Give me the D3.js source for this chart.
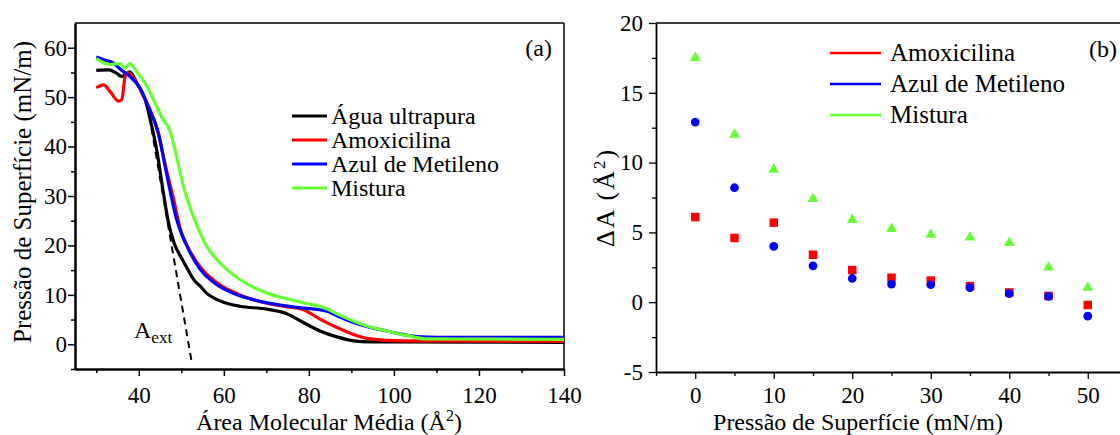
<!DOCTYPE html>
<html>
<head>
<meta charset="utf-8">
<script src="https://cdn.jsdelivr.net/npm/d3@7"></script>
<style>
  body { margin: 0; background: #fff; }
  svg { display: block; }
</style>
</head>
<body>
<svg id="chart" width="1120" height="435"></svg>
<script>
// ---- panel (a): isotherms, [area, pressure]
const aguaCurve = [[30,55.4],[33,55.5],[34.5,55],[36,54.2],[37.9,55.1],[39.5,52.9],[41.5,49.5],[42.6,45.8],
  [44.2,39.4],[45.8,30.6],[47,24.5],[48.3,20.5],[50,17.5],[51.3,15.5],[53,13],[54.4,11.8],[56,10.3],
  [58.3,9.1],[61,8.2],[63.8,7.7],[70.1,7.1],[74.8,6.2],[78.7,4.4],[82.6,2.7],[86.6,1.5],[90.5,0.7],
  [94.4,0.5],[120,0.45],[140,0.4]];
const amoxCurve = [[30,51.9],[31.7,52.5],[33.2,51.2],[35.2,49.2],[36,49.5],[36.8,54.2],[37.5,54.9],
  [39.1,53.5],[41.1,50.2],[42.6,47.6],[44.6,42.5],[46.3,36],[48.2,29.3],[49.8,23.2],[51.4,19.9],
  [54.5,15.6],[58.3,12.5],[63.8,10],[70.1,8.3],[74,7.7],[78.7,7.0],[82.6,5.1],[86.6,3.4],[90.5,2.0],
  [94.4,1.1],[102,0.7],[140,0.6]];
const azulCurve = [[30,58.1],[32,57.5],[34,56.9],[36,55.4],[37.9,54.2],[40.3,51.8],[42.2,48.1],[44.6,42.8],
  [46.2,36.0],[47.8,29.3],[48.9,25.3],[50,22.5],[51.3,19.9],[54.4,15.2],[58.3,12.1],[63.8,9.8],
  [70.1,8.4],[77.9,7.4],[84.2,6.7],[87,5.6],[90.5,4.4],[94,3.5],[98.3,2.7],[102,2.0],[106.2,1.5],
  [110,1.4],[140,1.4]];
const misturaCurve = [[30,57.8],[33.2,56.6],[35.6,56.8],[36.8,55.9],[37.9,56.8],[39.5,55.2],[41.9,52.2],
  [44.2,48.1],[45.5,45.8],[47.35,43.1],[48.5,39.4],[50.5,32],[52.5,26.6],[54.4,22.6],[56,19.8],
  [58.3,17.2],[63.8,13.1],[70.1,10.4],[74,9.4],[78.7,8.4],[84.2,7.2],[87,6.0],[90.5,4.7],[94,3.6],
  [98.3,2.7],[103,1.8],[107.5,1.1],[140,1.0]];
const tangentLine = [[42.5,46.1],[52.5,-3.9]];
const isoNames = ["Água ultrapura", "Amoxicilina", "Azul de Metileno", "Mistura"];
const isoTicksX = [40, 60, 80, 100, 120, 140];
const isoTicksY = [0, 10, 20, 30, 40, 50, 60];

// ---- panel (b): delta A vs pressure
const pressures = [0, 5, 10, 15, 20, 25, 30, 35, 40, 45, 50];
const deltaAmox = [6.1, 4.6, 5.7, 3.4, 2.3, 1.75, 1.55, 1.15, 0.7, 0.45, -0.2];
const deltaAzul = [12.9, 8.2, 4.0, 2.6, 1.7, 1.3, 1.25, 1.05, 0.62, 0.42, -1.0];
const deltaMistura = [17.5, 12.0, 9.5, 7.4, 5.9, 5.25, 4.85, 4.65, 4.25, 2.5, 1.05];
const deltaNames = ["Amoxicilina", "Azul de Metileno", "Mistura"];
const deltaTicksX = [0, 10, 20, 30, 40, 50];
const deltaTicksY = [-5, 0, 5, 10, 15, 20];

const colors = { black: "#000000", red: "#ff0000", blue: "#0000ff", green: "#66ff33" };
const serif = "'Liberation Serif', 'Times New Roman', serif";

const svg = d3.select("#chart").attr("font-family", serif);
const fmt = d => String(d); // plain hyphen for negatives, like the original

// restyle an axis group: serif labels, black lines
function styleAxis(g, domainWidth, tickWidth) {
  g.attr("font-family", serif).attr("font-size", 23);
  g.selectAll("text").attr("font-family", serif).attr("font-size", 23).attr("fill", "#000");
  g.select(".domain").attr("stroke", "#000").attr("stroke-width", domainWidth);
  g.selectAll(".tick line").attr("stroke", "#000").attr("stroke-width", tickWidth);
}

function minorAxis(axisFn, scale, values, size) {
  return axisFn(scale).tickValues(values).tickSize(size).tickFormat("").tickSizeOuter(0);
}

// ================= panel (a) =================
const pa = { left: 75, right: 564, top: 23, bottom: 369 };
const xa = d3.scaleLinear().domain([25, 140]).range([pa.left, pa.right]);
const ya = d3.scaleLinear().domain([-5, 65]).range([pa.bottom, pa.top]);

const ga = svg.append("g");

// frame top + right
ga.append("line").attr("x1", pa.left).attr("x2", pa.right).attr("y1", pa.top).attr("y2", pa.top)
  .attr("stroke", "#000").attr("stroke-width", 1.5);
ga.append("line").attr("x1", pa.right).attr("x2", pa.right).attr("y1", pa.top).attr("y2", pa.bottom)
  .attr("stroke", "#000").attr("stroke-width", 1.5);

// bottom axis
ga.append("g").attr("transform", `translate(0,${pa.bottom})`)
  .call(d3.axisBottom(xa).tickValues(isoTicksX).tickFormat(fmt).tickSize(7).tickPadding(11).tickSizeOuter(0))
  .call(g => styleAxis(g, 2.5, 1.5));
ga.append("g").attr("transform", `translate(0,${pa.bottom})`)
  .call(minorAxis(d3.axisBottom, xa, d3.range(30, 140, 20), 4))
  .call(g => g.select(".domain").remove())
  .call(g => styleAxis(g, 0, 1.5));

// left axis
ga.append("g").attr("transform", `translate(${pa.left},0)`)
  .call(d3.axisLeft(ya).tickValues(isoTicksY).tickFormat(fmt).tickSize(7).tickPadding(1).tickSizeOuter(0))
  .call(g => styleAxis(g, 2.5, 1.5));
ga.append("g").attr("transform", `translate(${pa.left},0)`)
  .call(minorAxis(d3.axisLeft, ya, d3.range(-5, 65, 10), 4))
  .call(g => g.select(".domain").remove())
  .call(g => styleAxis(g, 0, 1.5));

// titles
ga.append("text").attr("x", 329).attr("y", 430)
  .attr("text-anchor", "middle").attr("font-size", 24)
  .html("Área Molecular Média (Å<tspan dy='-9' font-size='16'>2</tspan><tspan dy='9'>)</tspan>");
ga.append("text").attr("transform", `translate(31,${(pa.top + pa.bottom) / 2 - 4}) rotate(-90)`)
  .attr("text-anchor", "middle").attr("font-size", 25)
  .text("Pressão de Superfície (mN/m)");
ga.append("text").attr("x", 552).attr("y", 56).attr("text-anchor", "end").attr("font-size", 24).text("(a)");

// curves
const lineA = d3.line().x(d => xa(d[0])).y(d => ya(d[1])).curve(d3.curveMonotoneX);
const isoSeries = [
  { data: aguaCurve, color: colors.black },
  { data: amoxCurve, color: colors.red },
  { data: azulCurve, color: colors.blue },
  { data: misturaCurve, color: colors.green }
];
ga.append("defs").append("clipPath").attr("id", "clipA")
  .append("rect").attr("x", pa.left).attr("y", pa.top)
  .attr("width", pa.right - pa.left).attr("height", pa.bottom - pa.top);
const curves = ga.append("g").attr("clip-path", "url(#clipA)");
curves.selectAll("path.iso")
  .data(isoSeries)
  .enter()
  .append("path")
  .attr("class", "iso")
  .attr("d", d => lineA(d.data))
  .attr("fill", "none")
  .attr("stroke", d => d.color)
  .attr("stroke-width", 3.2);
curves.append("path")
  .attr("d", d3.line().x(d => xa(d[0])).y(d => ya(d[1]))(tangentLine))
  .attr("fill", "none").attr("stroke", "#000").attr("stroke-width", 2)
  .attr("stroke-dasharray", "7,5");

ga.append("text").attr("x", 134).attr("y", 338).attr("font-size", 24)
  .html("A<tspan dy='5' font-size='17'>ext</tspan>");

// legend (a)
const legA = ga.append("g");
legA.selectAll("line")
  .data(isoSeries)
  .enter()
  .append("line")
  .attr("x1", 292).attr("x2", 327)
  .attr("y1", (d, i) => 116 + i * 24).attr("y2", (d, i) => 116 + i * 24)
  .attr("stroke", d => d.color).attr("stroke-width", 3);
legA.selectAll("text")
  .data(isoNames)
  .enter()
  .append("text")
  .attr("x", 331)
  .attr("y", (d, i) => 116 + i * 24 + 8)
  .attr("font-size", 24)
  .text(d => d);

// ================= panel (b) =================
const pb = { left: 656, right: 1127, top: 23, bottom: 372 };
const xb = d3.scaleLinear().domain([-5, 55]).range([pb.left, pb.right]);
const yb = d3.scaleLinear().domain([-5, 20]).range([pb.bottom, pb.top]);
const gb = svg.append("g");

gb.append("line").attr("x1", pb.left).attr("x2", pb.right).attr("y1", pb.top).attr("y2", pb.top)
  .attr("stroke", "#000").attr("stroke-width", 1.5);

gb.append("g").attr("transform", `translate(0,${pb.bottom})`)
  .call(d3.axisBottom(xb).tickValues(deltaTicksX).tickFormat(fmt).tickSize(7).tickPadding(8).tickSizeOuter(0))
  .call(g => styleAxis(g, 1.8, 1.3));
gb.append("g").attr("transform", `translate(0,${pb.bottom})`)
  .call(minorAxis(d3.axisBottom, xb, d3.range(-5, 55, 10), 4))
  .call(g => g.select(".domain").remove())
  .call(g => styleAxis(g, 0, 1.3));

gb.append("g").attr("transform", `translate(${pb.left},0)`)
  .call(d3.axisLeft(yb).tickValues(deltaTicksY).tickFormat(fmt).tickSize(7).tickPadding(6).tickSizeOuter(0))
  .call(g => styleAxis(g, 1.8, 1.3));
gb.append("g").attr("transform", `translate(${pb.left},0)`)
  .call(minorAxis(d3.axisLeft, yb, d3.range(-2.5, 20, 5), 4))
  .call(g => g.select(".domain").remove())
  .call(g => styleAxis(g, 0, 1.3));

gb.append("text").attr("x", 858).attr("y", 430)
  .attr("text-anchor", "middle").attr("font-size", 24)
  .text("Pressão de Superfície (mN/m)");
gb.append("text").attr("transform", `translate(614,${(pb.top + pb.bottom) / 2}) rotate(-90)`)
  .attr("text-anchor", "middle").attr("font-size", 26).attr("letter-spacing", 2)
  .html("ΔA (Å<tspan dy='-9' font-size='17'>2</tspan><tspan dy='9'>)</tspan>");
gb.append("text").attr("x", 1117).attr("y", 57).attr("text-anchor", "end").attr("font-size", 24).text("(b)");

// markers
const deltaSeries = [
  { values: deltaAmox, color: colors.red, symbol: d3.symbolSquare, size: 72 },
  { values: deltaAzul, color: colors.blue, symbol: d3.symbolCircle, size: 60 },
  { values: deltaMistura, color: colors.green, symbol: d3.symbolTriangle, size: 52 }
];
deltaSeries.forEach(s => {
  gb.append("g")
    .selectAll("path")
    .data(pressures)
    .enter()
    .append("path")
    .attr("d", d3.symbol().type(s.symbol).size(s.size))
    .attr("transform", (d, i) => `translate(${xb(d)},${yb(s.values[i])})`)
    .attr("fill", s.color);
});

// legend (b)
const legB = gb.append("g");
legB.selectAll("line")
  .data(deltaSeries)
  .enter()
  .append("line")
  .attr("x1", 830).attr("x2", 881)
  .attr("y1", (d, i) => 53 + i * 31).attr("y2", (d, i) => 53 + i * 31)
  .attr("stroke", d => d.color).attr("stroke-width", 2.5);
legB.selectAll("text")
  .data(deltaNames)
  .enter()
  .append("text")
  .attr("x", 890)
  .attr("y", (d, i) => 53 + i * 31 + 8)
  .attr("font-size", 25)
  .text(d => d);
</script>
</body>
</html>
